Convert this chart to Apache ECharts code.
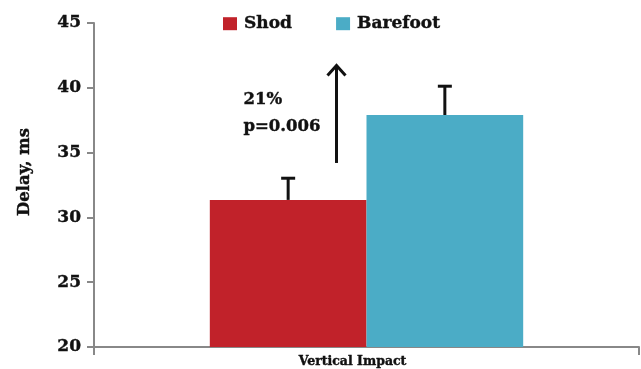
<!DOCTYPE html>
<html><head><meta charset="utf-8">
<script src="https://cdn.jsdelivr.net/npm/echarts@6/dist/echarts.min.js"></script>
<style>html,body{margin:0;padding:0;background:#fff}#c{width:641px;height:369px}</style>
</head><body><div id="c"></div>
<script>
var categories = ['Vertical Impact'];
var seriesNames = ['Shod', 'Barefoot'];
var shodValues = [31.35];
var barefootValues = [37.9];
var shodErrors = [1.75];
var barefootErrors = [2.3];
var arrowRange = [34.2, 41.8];
var annotationLines = ['21%', 'p=0.006'];
var yTicks = {min: 20, max: 45, interval: 5};

var serif = '"DejaVu Serif", "Liberation Serif", serif';
var colors = ['#C1222A', '#4BACC6'];
var ink = '#111';
var chart = echarts.init(document.getElementById('c'));

function errorSeries(values, errs, sign) {
  return {
    type: 'custom', silent: true, z: 5,
    data: values.map(function (v, i) { return [i, v, v + errs[i]]; }),
    renderItem: function (params, api) {
      var band = api.size([1, 0])[0];
      var off = sign * band * 0.14375;
      var p0 = api.coord([api.value(0), api.value(1)]);
      var p1 = api.coord([api.value(0), api.value(2)]);
      var x = p0[0] + off;
      var st = {stroke: ink, lineWidth: 3};
      return {type: 'group', children: [
        {type: 'line', shape: {x1: x, y1: p0[1], x2: x, y2: p1[1]}, style: st},
        {type: 'line', shape: {x1: x - 7, y1: p1[1] + 1, x2: x + 7, y2: p1[1] + 1}, style: st}
      ]};
    }
  };
}

var thick = {textBorderColor: ink, textBorderWidth: 0.4};

chart.setOption({
  animation: false,
  grid: {left: 94, right: 2, top: 23, bottom: 22, containLabel: false},
  legend: {
    data: seriesNames, left: 218, top: 10, itemWidth: 14, itemHeight: 13, itemGap: 44,
    icon: 'rect',
    textStyle: Object.assign({fontFamily: serif, fontWeight: 'bold', fontSize: 17, color: ink, padding: [0, 0, 0, 2]}, thick)
  },
  xAxis: {
    type: 'category', data: categories,
    axisLine: {lineStyle: {color: '#888', width: 2}},
    axisTick: {show: true, length: 8, lineStyle: {color: '#888', width: 2}},
    axisLabel: Object.assign({fontFamily: serif, fontWeight: 'bold', fontSize: 12.5, color: ink, margin: 8, padding: [0, 28, 0, 0]}, thick)
  },
  yAxis: {
    type: 'value', min: yTicks.min, max: yTicks.max, interval: yTicks.interval,
    name: 'Delay, ms', nameLocation: 'middle', nameGap: 61, nameRotate: 90,
    nameTextStyle: Object.assign({fontFamily: serif, fontWeight: 'bold', fontSize: 16.5, color: ink, padding: [0, 0, 0, 26]}, thick),
    axisLine: {show: true, lineStyle: {color: '#888', width: 2}},
    axisTick: {show: true, length: 7, lineStyle: {color: '#888', width: 2}},
    splitLine: {show: false},
    axisLabel: Object.assign({fontFamily: serif, fontWeight: 'bold', fontSize: 17, color: ink, margin: 13}, thick)
  },
  series: [
    {name: seriesNames[0], type: 'bar', data: shodValues, barGap: '0%', barCategoryGap: '42.5%', itemStyle: {color: colors[0]}},
    {name: seriesNames[1], type: 'bar', data: barefootValues, barGap: '0%', barCategoryGap: '42.5%', itemStyle: {color: colors[1]}},
    errorSeries(shodValues, shodErrors, -1),
    errorSeries(barefootValues, barefootErrors, 1),
    {
      type: 'custom', silent: true, z: 6,
      data: [[0, arrowRange[0], arrowRange[1]]],
      renderItem: function (params, api) {
        var p0 = api.coord([api.value(0), api.value(1)]);
        var p1 = api.coord([api.value(0), api.value(2)]);
        var x = p0[0] - 30;
        var st = {stroke: ink, lineWidth: 3, fill: null};
        var t1 = api.coord([0, 39.05]);
        var t2 = api.coord([0, 37.0]);
        var tx = p0[0] - 123;
        var ts = Object.assign({fontFamily: serif, fontWeight: 'bold', fontSize: 16.5, fill: ink, textAlign: 'left', textVerticalAlign: 'middle', stroke: ink, lineWidth: 0.4});
        return {type: 'group', children: [
          {type: 'line', shape: {x1: x, y1: p0[1], x2: x, y2: p1[1] + 2}, style: st},
          {type: 'polyline', shape: {points: [[x - 9, p1[1] + 11], [x, p1[1] + 1], [x + 9, p1[1] + 11]]}, style: st},
          {type: 'text', style: Object.assign({text: annotationLines[0], x: tx, y: t1[1]}, ts)},
          {type: 'text', style: Object.assign({text: annotationLines[1], x: tx, y: t2[1]}, ts)}
        ]};
      }
    }
  ]
});
</script></body></html>
